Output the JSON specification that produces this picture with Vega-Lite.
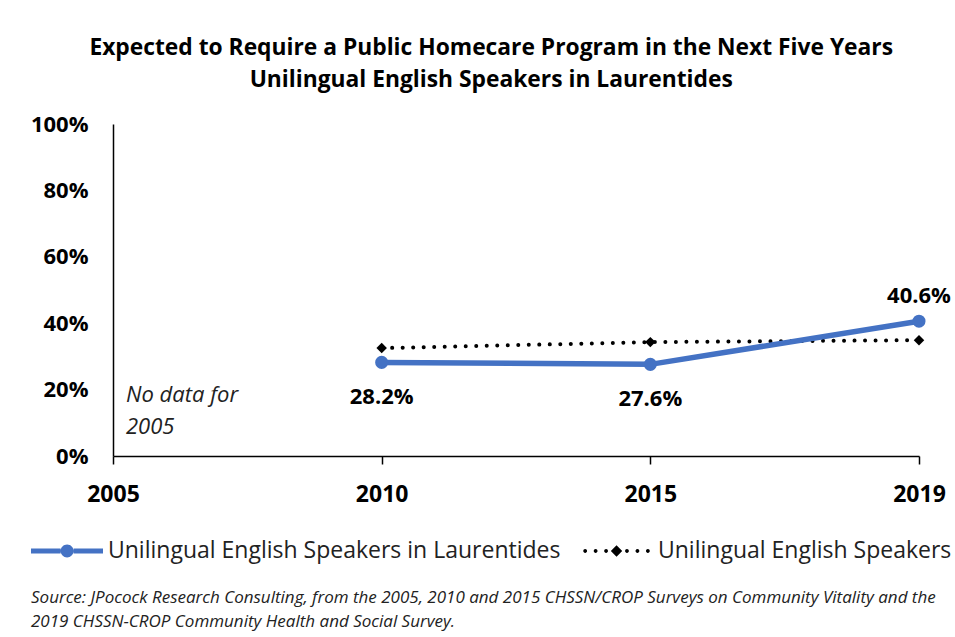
{
  "$schema": "https://vega.github.io/schema/vega-lite/v6.json",
  "width": 806,
  "height": 332,
  "padding": {"left": 30, "top": 37, "right": 10, "bottom": 8},
  "background": "white",
  "config": {
    "font": "Open Sans",
    "view": {"stroke": null},
    "axis": {"grid": false}
  },
  "title": {
    "text": ["Expected to Require a Public Homecare Program in the Next Five Years", "Unilingual English Speakers in Laurentides"],
    "font": "Open Sans",
    "fontSize": 22.8,
    "fontWeight": "bold",
    "color": "#000000",
    "lineHeight": 32,
    "anchor": "middle",
    "frame": "bounds",
    "offset": 21
  },
  "datasets": {
    "series": [
      {"year": "2010", "series": "Unilingual English Speakers in Laurentides", "value": 0.282, "label": "28.2%"},
      {"year": "2015", "series": "Unilingual English Speakers in Laurentides", "value": 0.276, "label": "27.6%"},
      {"year": "2019", "series": "Unilingual English Speakers in Laurentides", "value": 0.406, "label": "40.6%"},
      {"year": "2010", "series": "Unilingual English Speakers", "value": 0.325, "label": ""},
      {"year": "2015", "series": "Unilingual English Speakers", "value": 0.343, "label": ""},
      {"year": "2019", "series": "Unilingual English Speakers", "value": 0.349, "label": ""}
    ],
    "note": [
      {"year": "2005", "note": "No data for\n2005"}
    ]
  },
  "encoding": {
    "x": {
      "field": "year",
      "type": "ordinal",
      "scale": {"type": "point", "domain": ["2005", "2010", "2015", "2019"], "padding": 0},
      "axis": {
        "title": null,
        "labelAngle": 0,
        "labelFont": "Open Sans",
        "labelFontSize": 23,
        "labelFontWeight": "bold",
        "labelColor": "#000000",
        "labelPadding": 19,
        "domainColor": "#000000",
        "domainWidth": 1.5,
        "tickColor": "#000000",
        "tickWidth": 1.5,
        "tickSize": 8
      }
    }
  },
  "layer": [
    {
      "data": {"name": "note"},
      "mark": {"type": "text", "font": "Open Sans", "fontSize": 22, "fontStyle": "italic", "color": "#222222", "align": "left", "baseline": "middle", "dx": 13, "lineBreak": "\n", "lineHeight": 32},
      "encoding": {
        "y": {"datum": 0.184, "type": "quantitative", "scale": {"domain": [0, 1], "nice": false}},
        "text": {"field": "note", "type": "nominal"}
      }
    },
    {
      "data": {"name": "series"},
      "encoding": {
        "y": {
          "field": "value",
          "type": "quantitative",
          "scale": {"domain": [0, 1], "nice": false},
          "axis": {
            "title": null,
            "values": [0, 0.2, 0.4, 0.6, 0.8, 1],
            "format": ".0%",
            "labelFont": "Open Sans",
            "labelFontSize": 22,
            "labelFontWeight": "bold",
            "labelColor": "#000000",
            "labelPadding": 25,
            "ticks": false,
            "domainColor": "#000000",
            "domainWidth": 1.5
          }
        }
      },
      "layer": [
        {
          "mark": {"type": "point", "filled": true, "opacity": 0},
          "encoding": {
            "shape": {
              "field": "series",
              "type": "nominal",
              "scale": {
                "domain": ["Unilingual English Speakers in Laurentides", "Unilingual English Speakers"],
                "range": [
                  "M-1,-0.13L0.56,-0.13L0.56,0.13L-1,0.13Z M1.24,-0.13L2.79,-0.13L2.79,0.13L1.24,0.13Z M0.56,0A0.34,0.34,0,1,1,1.24,0A0.34,0.34,0,1,1,0.56,0Z",
                  "M-0.88,0A0.1,0.1,0,1,1,-0.68,0A0.1,0.1,0,1,1,-0.88,0Z M-0.33,0A0.1,0.1,0,1,1,-0.13,0A0.1,0.1,0,1,1,-0.33,0Z M0.22,0A0.1,0.1,0,1,1,0.42,0A0.1,0.1,0,1,1,0.22,0Z M1.32,0A0.1,0.1,0,1,1,1.52,0A0.1,0.1,0,1,1,1.32,0Z M1.87,0A0.1,0.1,0,1,1,2.07,0A0.1,0.1,0,1,1,1.87,0Z M2.42,0A0.1,0.1,0,1,1,2.62,0A0.1,0.1,0,1,1,2.42,0Z M0.87,-0.3L1.17,0L0.87,0.3L0.57,0Z"
                ]
              },
              "legend": {
                "orient": "none",
                "legendX": -82,
                "legendY": 408,
                "direction": "horizontal",
                "title": ["Source: JPocock Research Consulting, from the 2005, 2010  and 2015  CHSSN/CROP Surveys on Community Vitality and the", "2019  CHSSN-CROP Community Health and Social Survey."],
                "titleOrient": "bottom",
                "titleAnchor": "start",
                "titleFont": "Open Sans",
                "titleFontSize": 17,
                "titleFontStyle": "italic",
                "titleFontWeight": "normal",
                "titleColor": "#222222",
                "titleLimit": 1000,
                "titleLineHeight": 24,
                "titlePadding": 27,
                "labelFont": "Open Sans",
                "labelFontSize": 23,
                "labelColor": "#222222",
                "labelLimit": 700,
                "labelOffset": 39,
                "symbolSize": 1444,
                "symbolOpacity": 1,
                "symbolStrokeWidth": 0,
                "columnPadding": 20
              }
            },
            "color": {
              "field": "series",
              "type": "nominal",
              "scale": {
                "domain": ["Unilingual English Speakers in Laurentides", "Unilingual English Speakers"],
                "range": ["#4472C4", "#000000"]
              }
            }
          }
        },
        {
          "transform": [{"filter": "datum.series === 'Unilingual English Speakers'"}],
          "mark": {"type": "line", "color": "#000000", "strokeWidth": 4, "strokeDash": [0.01, 10.5], "strokeCap": "round"}
        },
        {
          "transform": [{"filter": "datum.series === 'Unilingual English Speakers'"}],
          "mark": {"type": "point", "shape": "diamond", "filled": true, "color": "#000000", "size": 110, "opacity": 1}
        },
        {
          "transform": [{"filter": "datum.series === 'Unilingual English Speakers in Laurentides'"}],
          "mark": {"type": "line", "color": "#4472C4", "strokeWidth": 5.5, "strokeCap": "round"}
        },
        {
          "transform": [{"filter": "datum.series === 'Unilingual English Speakers in Laurentides'"}],
          "mark": {"type": "point", "shape": "circle", "filled": true, "color": "#4472C4", "size": 170, "opacity": 1}
        },
        {
          "transform": [{"filter": "datum.series === 'Unilingual English Speakers in Laurentides' && datum.year !== '2019'"}],
          "mark": {"type": "text", "font": "Open Sans", "fontSize": 22, "fontWeight": "bold", "color": "#000000", "dy": 35},
          "encoding": {"text": {"field": "label"}}
        },
        {
          "transform": [{"filter": "datum.series === 'Unilingual English Speakers in Laurentides' && datum.year === '2019'"}],
          "mark": {"type": "text", "font": "Open Sans", "fontSize": 22, "fontWeight": "bold", "color": "#000000", "dy": -25},
          "encoding": {"text": {"field": "label"}}
        }
      ]
    }
  ]
}
